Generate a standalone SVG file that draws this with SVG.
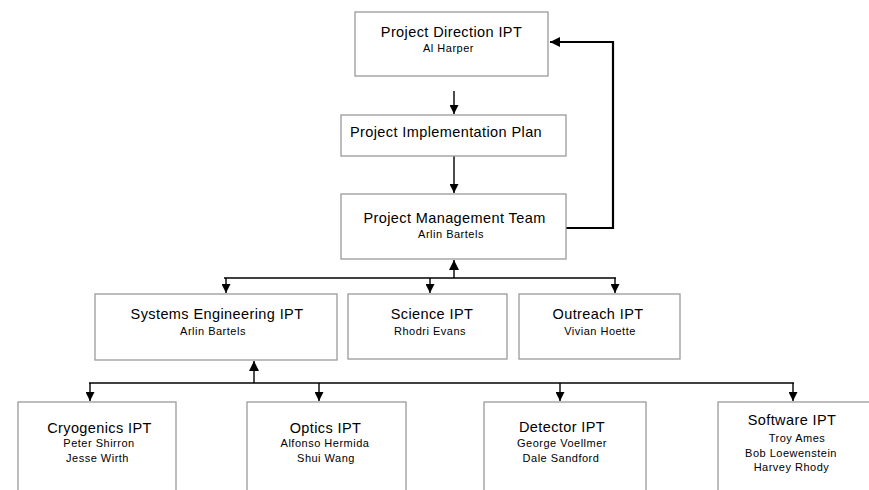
<svg xmlns="http://www.w3.org/2000/svg" width="869" height="490" viewBox="0 0 869 490">
<style>
.box{fill:#fff;stroke:#9a9a9a;stroke-width:1.3}
.t{font-family:"Liberation Sans",Arial,sans-serif;font-size:14.5px;letter-spacing:0.4px;fill:#000;text-anchor:middle}
.n{font-family:"Liberation Sans",Arial,sans-serif;font-size:11px;letter-spacing:0.5px;fill:#000;text-anchor:middle}
.c{fill:none;stroke:#000;stroke-width:1.4}
.thick{stroke-width:2.2}
</style>
<defs>
<marker id="ah" viewBox="0 0 10 10" refX="10" refY="5" markerWidth="9" markerHeight="9" markerUnits="userSpaceOnUse" orient="auto">
<path d="M0,0 L10,5 L0,10 z" fill="#000"/>
</marker>
<marker id="ahL" viewBox="0 0 10 10" refX="10" refY="5" markerWidth="10" markerHeight="10" markerUnits="userSpaceOnUse" orient="auto">
<path d="M0,0 L10,5 L0,10 z" fill="#000"/>
</marker>
</defs>
<g id="connectors">
<line class="c" x1="454" y1="91" x2="454" y2="114" marker-end="url(#ah)"/>
<line class="c" x1="454" y1="156" x2="454" y2="193" marker-end="url(#ah)"/>
<polyline class="c thick" points="566,228 613,228 613,42 550,42" marker-end="url(#ahL)"/>
<line class="c" x1="454" y1="278" x2="454" y2="260" marker-end="url(#ahL)"/>
<line class="c" x1="224" y1="278" x2="616" y2="278"/>
<line class="c" x1="226" y1="278" x2="226" y2="293" marker-end="url(#ah)"/>
<line class="c" x1="430" y1="278" x2="430" y2="293" marker-end="url(#ah)"/>
<line class="c" x1="615" y1="278" x2="615" y2="293" marker-end="url(#ah)"/>
<line class="c" x1="254" y1="383" x2="254" y2="361" marker-end="url(#ahL)"/>
<line class="c" x1="89" y1="383" x2="794" y2="383"/>
<line class="c" x1="90" y1="383" x2="90" y2="401" marker-end="url(#ah)"/>
<line class="c" x1="319" y1="383" x2="319" y2="401" marker-end="url(#ah)"/>
<line class="c" x1="560" y1="383" x2="560" y2="401" marker-end="url(#ah)"/>
<line class="c" x1="793" y1="383" x2="793" y2="401" marker-end="url(#ah)"/>
</g>
<g id="project-direction">
<rect class="box" x="355" y="12" width="193" height="64"/>
<text class="t" x="451.5" y="37">Project Direction IPT</text>
<text class="n" x="448.5" y="52">Al Harper</text>
</g>
<g id="implementation-plan">
<rect class="box" x="341" y="115" width="225" height="41"/>
<text class="t" x="446" y="137">Project Implementation Plan</text>
</g>
<g id="management-team">
<rect class="box" x="341" y="194" width="225" height="65"/>
<text class="t" x="454.5" y="223">Project Management Team</text>
<text class="n" x="451" y="238">Arlin Bartels</text>
</g>
<g id="systems-engineering">
<rect class="box" x="95" y="294" width="242" height="66"/>
<text class="t" x="217" y="319">Systems Engineering IPT</text>
<text class="n" x="213" y="335">Arlin Bartels</text>
</g>
<g id="science">
<rect class="box" x="348" y="294" width="159" height="65"/>
<text class="t" x="432" y="319">Science IPT</text>
<text class="n" x="430" y="335">Rhodri Evans</text>
</g>
<g id="outreach">
<rect class="box" x="519" y="294" width="161" height="65"/>
<text class="t" x="598" y="319">Outreach IPT</text>
<text class="n" x="600" y="335">Vivian Hoette</text>
</g>
<g id="cryogenics">
<rect class="box" x="18" y="402" width="158" height="100"/>
<text class="t" x="99.5" y="433">Cryogenics IPT</text>
<text class="n" x="99" y="447">Peter Shirron</text>
<text class="n" x="97.5" y="462">Jesse Wirth</text>
</g>
<g id="optics">
<rect class="box" x="247" y="402" width="159" height="100"/>
<text class="t" x="325.5" y="433">Optics IPT</text>
<text class="n" x="325" y="447">Alfonso Hermida</text>
<text class="n" x="326" y="462">Shui Wang</text>
</g>
<g id="detector">
<rect class="box" x="484" y="402" width="162" height="100"/>
<text class="t" x="562" y="432">Detector IPT</text>
<text class="n" x="562" y="447">George Voellmer</text>
<text class="n" x="561" y="462">Dale Sandford</text>
</g>
<g id="software">
<rect class="box" x="718" y="402" width="170" height="100"/>
<text class="t" x="792" y="425">Software IPT</text>
<text class="n" x="797" y="442">Troy Ames</text>
<text class="n" x="791" y="457">Bob Loewenstein</text>
<text class="n" x="791.5" y="471">Harvey Rhody</text>
</g>
</svg>
